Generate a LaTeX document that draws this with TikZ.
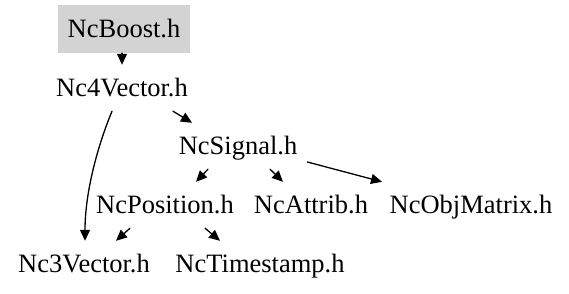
\documentclass[tikz,border=0pt]{standalone}
\usepackage{fontspec}
\setmainfont{Liberation Serif}
\usepackage{tikz}
\usetikzlibrary{arrows.meta}
\definecolor{boxgray}{HTML}{D3D3D3}

\begin{document}
\begin{tikzpicture}[line cap=round,line join=round,x=1pt,y=-1pt,
  >={Triangle[length=11pt,width=10pt]},
  hfile/.style={inner xsep=10pt,minimum height=46pt,text height=21pt,text depth=4pt,
    font=\fontsize{26.5}{30}\selectfont},
  link/.style={->,line width=1.3pt}]
\useasboundingbox (0,0) rectangle (569,293);
\node[hfile,fill=boxgray,minimum height=48pt] (boost) at (124,29) {NcBoost.h};
\node[hfile] (v4) at (122,88) {Nc4Vector.h};
\node[hfile] (sig) at (238,146) {NcSignal.h};
\node[hfile] (pos) at (165,205) {NcPosition.h};
\node[hfile] (att) at (311,205) {NcAttrib.h};
\node[hfile] (obj) at (471,205) {NcObjMatrix.h};
\node[hfile] (v3) at (84,264) {Nc3Vector.h};
\node[hfile] (ts) at (260,264) {NcTimestamp.h};
\draw[link] ([xshift=-2pt]boost.south) -- (v4.north);
\draw[link] ([xshift=51pt]v4.south) -- ([xshift=-46pt]sig.north);
\draw[link] ([xshift=-10pt]v4.south) .. controls (96,150) and (85,195) .. ([xshift=1pt]v3.north);
\draw[link] ([xshift=-30pt]sig.south) -- ([xshift=31pt]pos.north);
\draw[link] ([xshift=32pt]sig.south) -- ([xshift=-28pt]att.north);
\draw[link] ([yshift=-16pt]sig.east) -- ([xshift=-89pt]obj.north);
\draw[link] ([xshift=-35pt]pos.south) -- ([xshift=32pt]v3.north);
\draw[link] ([xshift=40pt]pos.south) -- ([xshift=-40pt]ts.north);
\end{tikzpicture}
\end{document}
